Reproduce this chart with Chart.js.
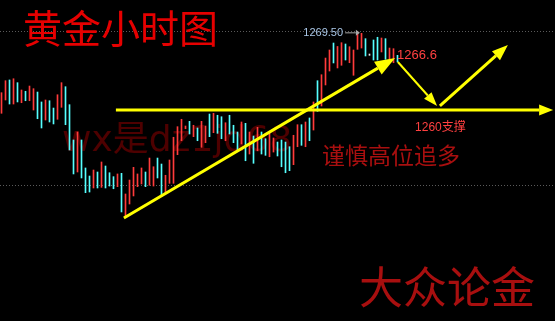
<!DOCTYPE html>
<html>
<head>
<meta charset="utf-8">
<script src="https://cdn.jsdelivr.net/npm/chart.js@4/dist/chart.umd.min.js"></script>
<style>
  html, body { margin: 0; padding: 0; background: #000; overflow: hidden; }
</style>
</head>
<body>
<canvas id="chart" width="555" height="321"></canvas>
<script>
// 黄金小时线 最高价 / 最低价
const highs = [
  1262.11, 1263.57, 1263.66, 1263.81, 1263.33, 1262.44, 1262.28, 1262.92, 1262.60, 1262.19,
  1260.98, 1261.22, 1261.13, 1260.24, 1261.86, 1263.33, 1262.84, 1260.65, 1256.35, 1257.32,
  1256.35, 1252.94, 1251.96, 1252.69, 1252.45, 1253.67, 1253.18, 1252.36, 1251.88, 1252.21,
  1252.29, 1249.77, 1251.47, 1253.02, 1252.21, 1252.94, 1252.45, 1254.15, 1253.09, 1254.15,
  1253.42, 1252.05, 1253.91, 1256.68, 1257.97, 1258.87, 1258.05, 1258.62, 1258.14, 1257.81,
  1258.62, 1258.05, 1259.51, 1259.60, 1259.36, 1259.18, 1258.45, 1259.36, 1258.14, 1257.32,
  1258.54, 1258.38, 1257.32, 1256.83, 1257.89, 1257.32, 1256.50, 1257.16, 1256.59, 1256.10,
  1256.35, 1256.10, 1255.53, 1256.92, 1258.21, 1258.21, 1258.54, 1259.03, 1260.98, 1263.57,
  1264.30, 1266.33, 1267.31, 1268.16, 1267.74, 1268.20, 1268.04, 1267.71, 1267.31, 1269.50,
  1269.34, 1268.69, 1266.82, 1268.53, 1268.86, 1268.77, 1268.69, 1267.55, 1267.47, 1266.66
];
const lows = [
  1259.60, 1261.22, 1260.73, 1260.73, 1260.98, 1260.89, 1261.13, 1261.13, 1260.00, 1258.94,
  1257.81, 1258.78, 1258.54, 1258.30, 1258.87, 1260.33, 1258.21, 1255.13, 1252.21, 1252.45,
  1251.72, 1249.93, 1250.01, 1250.50, 1250.50, 1250.58, 1250.50, 1250.74, 1250.41, 1250.66,
  1247.58, 1247.00, 1248.55, 1249.53, 1250.66, 1250.99, 1250.66, 1250.83, 1250.74, 1251.72,
  1249.44, 1249.93, 1251.07, 1251.07, 1254.56, 1256.26, 1257.72, 1257.08, 1256.75, 1256.26,
  1255.46, 1256.02, 1256.75, 1257.24, 1257.16, 1256.50, 1256.26, 1257.08, 1256.02, 1254.97,
  1255.86, 1253.82, 1254.64, 1253.51, 1255.04, 1254.64, 1254.48, 1254.31, 1254.88, 1254.40,
  1253.09, 1252.36, 1252.61, 1253.34, 1255.53, 1255.70, 1255.53, 1256.26, 1257.56, 1259.84,
  1260.49, 1263.05, 1264.75, 1265.73, 1265.12, 1265.45, 1266.09, 1265.76, 1264.23, 1267.39,
  1267.55, 1266.58, 1266.66, 1266.09, 1266.09, 1267.07, 1266.18, 1265.93, 1265.76, 1265.85
];
// 涨跌: 1 阳线(红), -1 阴线(青), 0 十字
const dirs = [
  1, 1, -1, 1, -1, 1, -1, 1, 1, -1,
  -1, 1, -1, -1, 1, 1, -1, -1, -1, 1,
  -1, -1, -1, 1, -1, 1, -1, -1, -1, 1,
  -1, 1, 1, 1, 1, 1, -1, 1, 1, -1,
  -1, 1, 1, 1, 1, 1, 1, -1, 1, -1,
  1, 1, -1, 1, -1, -1, 1, -1, -1, -1,
  1, -1, 1, -1, 1, -1, -1, 1, 1, -1,
  -1, -1, -1, 1, 1, -1, 1, -1, 1, -1,
  1, 1, 1, -1, 1, 1, -1, 1, 1, 1,
  1, -1, 0, -1, -1, 1, -1, 1, 1, -1
];

// 网格线价位
const gridPrices = [1269.6, 1250.85];

// 标注 (K线序号, 价格)
const supportLine = [[28.6, 1260.0], [137.9, 1260.0]];
const trendArrow = [[30.6, 1246.85], [98.4, 1266.34]];
const downArrow = [[99.1, 1265.85], [108.9, 1260.49]];
const upArrow = [[109.6, 1260.49], [126.6, 1267.92]];
const peakPointer = [[85.9, 1269.4], [89.6, 1269.4]];
const peakLabel = "1269.50";
const lastLabel = { text: "1266.6", at: [98.9, 1266.7] };
const supportLabel = { text: "1260支撑", at: [103.4, 1257.9] };

const UP = "#ff3b3b", DOWN = "#55ffff", FLAT = "#e8e8e8";
const CJK = '"Noto Sans CJK SC", sans-serif';

function arrow(ctx, x1, y1, x2, y2, w, hl, hw) {
    const a = Math.atan2(y2 - y1, x2 - x1);
    const bx = x2 - hl * Math.cos(a), by = y2 - hl * Math.sin(a);
    ctx.lineWidth = w;
    ctx.beginPath();
    ctx.moveTo(x1, y1);
    ctx.lineTo(bx, by);
    ctx.stroke();
    ctx.beginPath();
    ctx.moveTo(x2, y2);
    ctx.lineTo(bx + (hw / 2) * Math.sin(a), by - (hw / 2) * Math.cos(a));
    ctx.lineTo(bx - (hw / 2) * Math.sin(a), by + (hw / 2) * Math.cos(a));
    ctx.closePath();
    ctx.fill();
}

// 背景水印
const watermark = {
    id: "watermark",
    beforeDatasetsDraw(chart) {
        const ctx = chart.ctx;
        ctx.save();
        ctx.fillStyle = "#4e0000";
        ctx.font = '36px "DejaVu Sans", ' + CJK;
        ctx.textBaseline = "alphabetic";
        ctx.fillText("wx是dz1jd68", 62, 151);
        ctx.restore();
    }
};

// 箭头和文字
const notes = {
    id: "notes",
    afterDatasetsDraw(chart) {
        const ctx = chart.ctx;
        const xs = chart.scales.x, ys = chart.scales.y;
        const px = (p) => [xs.getPixelForValue(p[0]), ys.getPixelForValue(p[1])];
        ctx.save();

        // 黄色箭头
        ctx.strokeStyle = "#ffff00";
        ctx.fillStyle = "#ffff00";
        ctx.lineCap = "butt";
        let a = px(supportLine[0]), b = px(supportLine[1]);
        arrow(ctx, a[0], a[1], b[0], b[1], 3, 14, 11);
        a = px(trendArrow[0]); b = px(trendArrow[1]);
        arrow(ctx, a[0], a[1], b[0], b[1], 3, 20, 15);
        a = px(downArrow[0]); b = px(downArrow[1]);
        arrow(ctx, a[0], a[1], b[0], b[1], 2, 14, 10);
        a = px(upArrow[0]); b = px(upArrow[1]);
        arrow(ctx, a[0], a[1], b[0], b[1], 3, 16, 12);

        // 最高价指示
        ctx.strokeStyle = "#a8a8a8";
        ctx.fillStyle = "#a8a8a8";
        a = px(peakPointer[0]); b = px(peakPointer[1]);
        arrow(ctx, a[0], a[1], b[0], b[1], 1, 4, 6);
        ctx.fillStyle = "#a9c6e6";
        ctx.font = '11px "Liberation Sans", sans-serif';
        ctx.textAlign = "right";
        ctx.textBaseline = "middle";
        ctx.fillText(peakLabel, a[0] - 2, a[1] + 0.5);

        // 价格标签
        ctx.textAlign = "left";
        ctx.fillStyle = "#ff4040";
        ctx.font = '13px "Liberation Sans", ' + CJK;
        let p = px(lastLabel.at);
        ctx.fillText(lastLabel.text, p[0], p[1]);
        ctx.font = '12px "Liberation Sans", ' + CJK;
        p = px(supportLabel.at);
        ctx.fillText(supportLabel.text, p[0], p[1]);

        // 标题和说明
        ctx.textBaseline = "middle";
        ctx.fillStyle = "#e60000";
        ctx.font = "39px " + CJK;
        ctx.fillText("黄金小时图", 23, 28);
        ctx.fillStyle = "#a80f0f";
        ctx.font = "23px " + CJK;
        ctx.fillText("谨慎高位追多", 322, 155);
        ctx.font = "44px " + CJK;
        ctx.fillText("大众论金", 359, 287);
        ctx.restore();
    }
};

const bars = highs.map((h, i) => ({ x: i, y: [lows[i], h] }));
const colors = dirs.map((d) => (d > 0 ? UP : d < 0 ? DOWN : FLAT));

new Chart(document.getElementById("chart"), {
    type: "bar",
    data: {
        datasets: [{
            data: bars,
            backgroundColor: colors,
            borderWidth: 0,
            barThickness: 1,
            minBarLength: 1
        }]
    },
    options: {
        responsive: false,
        animation: false,
        layout: { padding: 0 },
        plugins: { legend: { display: false }, tooltip: { enabled: false } },
        scales: {
            x: { type: "linear", min: -0.375, max: 138.375, offset: false, display: false },
            y: {
                min: 1234.3,
                max: 1273.4,
                ticks: { display: false },
                border: { display: false, dash: [1, 2] },
                grid: { color: "#5a5a5a", drawTicks: false, lineWidth: 1 },
                afterBuildTicks: (scale) => {
                    scale.ticks = gridPrices.map((v) => ({ value: v }));
                }
            }
        }
    },
    plugins: [watermark, notes]
});
</script>
</body>
</html>
